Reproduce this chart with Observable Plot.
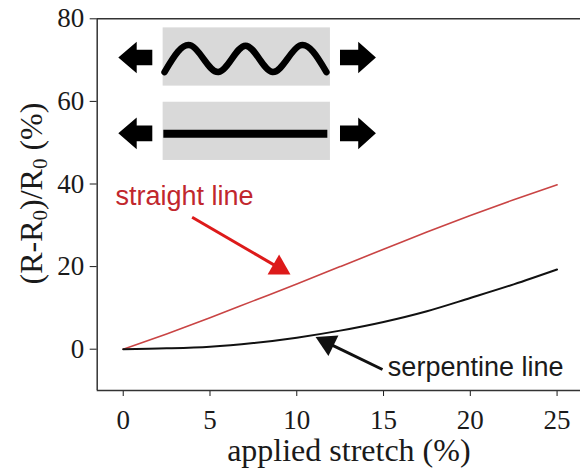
<!DOCTYPE html>
<html><head><meta charset="utf-8">
<script src="https://cdn.jsdelivr.net/npm/d3@7"></script>
<script src="https://cdn.jsdelivr.net/npm/@observablehq/plot@0.6"></script>
<style>body{margin:0;background:#fff}</style>
</head><body><div id="chart"></div>
<script>
// ---- chart data ----
const stretch        = [0, 2.5, 5, 7.5, 10, 12.5, 15, 17.5, 20, 22.5, 25];
const straightLine   = [0, 3.7, 7.6, 11.7, 15.8, 20.0, 24.2, 28.4, 32.4, 36.2, 39.8];
const serpentineLine = [0, 0.2, 0.6, 1.5, 2.8, 4.5, 6.6, 9.2, 12.4, 15.7, 19.3];
const xTicks = [0, 5, 10, 15, 20, 25];
const yTicks = [0, 20, 40, 60, 80];
const xLabel = "applied stretch (%)";
const yLabelParts = [["(R-R", false], ["0", true], [")/R", false], ["0", true], [" (%)", false]];
const seriesNames = ["straight line", "serpentine line"];

// ---- schematic inset & annotations (in data units) ----
const insetBoxX1 = [2.3, 2.3], insetBoxX2 = [11.94, 11.94];
const insetBoxY1 = [63.7, 45.7], insetBoxY2 = [77.8, 59.8];
const waveX = [2.38, 3.93, 5.49, 7.05, 8.6, 10.16, 11.71];
const waveY = [67.1, 73.5, 67.1, 73.5, 67.1, 73.5, 67.1];
const barX = [2.34, 11.79], barY = 52.15;
const blockTipX  = [-0.255, 14.59, -0.255, 14.59];
const blockBaseX = [0.805, 13.57, 0.805, 13.57];
const blockTailX = [1.704, 12.52, 1.704, 12.52];
const blockY     = [70.5, 70.5, 52.15, 52.15];
const headHalf = 3.83, shaftHalf = 1.89;
const pointerStart = [[3.97, 31.96], [14.94, -4.92]];
const pointerHead  = [[8.98, 19.70], [11.77, 1.55]];
const pointerAngle = [120.2, 295.9];
const pointerColor = ["#dd1a1a", "#111111"];
const labelPos = [[-0.45, 36.9], [15.25, -4.29]];
const labelColor = ["#c1272d", "#1a1a1a"];

// ---- tables ----
const lineRows = stretch.flatMap((s, i) => [
  {s, v: straightLine[i], series: seriesNames[0]},
  {s, v: serpentineLine[i], series: seriesNames[1]}
]);
const boxes = insetBoxX1.map((x1, i) => ({x1, x2: insetBoxX2[i], y1: insetBoxY1[i], y2: insetBoxY2[i]}));
const wave = waveX.map((x, i) => ({x, y: waveY[i]}));
const blockRows = blockTipX.flatMap((tip, i) => {
  const c = blockY[i];
  return [
    {id: i, x: tip, y1: c, y2: c},
    {id: i, x: blockBaseX[i], y1: c - headHalf, y2: c + headHalf},
    {id: i, x: blockBaseX[i], y1: c - shaftHalf, y2: c + shaftHalf},
    {id: i, x: blockTailX[i], y1: c - shaftHalf, y2: c + shaftHalf}
  ];
});
const pointers = pointerStart.map((p, i) => ({
  x1: p[0], y1: p[1], x2: pointerHead[i][0], y2: pointerHead[i][1],
  rot: pointerAngle[i], color: pointerColor[i]
}));
const labels = seriesNames.map((t, i) => ({t, x: labelPos[i][0], y: labelPos[i][1], color: labelColor[i]}));

const hasAxisMarks = typeof Plot.axisX === "function";
const axisMarks = hasAxisMarks ? [
  Plot.axisX({ticks: xTicks, tickSize: 6, tickPadding: 13, fontSize: 27, label: null}),
  Plot.axisY({ticks: yTicks, tickSize: 7, tickPadding: 6, fontSize: 27, label: null})
] : [];

const chart = Plot.plot({
  width: 580, height: 468,
  marginLeft: 96.7, marginRight: 0, marginTop: 18.3, marginBottom: 78,
  style: {fontFamily: "'Liberation Serif', serif", fontSize: "27px", color: "#1a1a1a", background: "white"},
  x: {domain: [-1.5, 26.35], ticks: xTicks, tickSize: 6, tickPadding: 13, label: null},
  y: {domain: [-10, 80], ticks: yTicks, tickSize: 7, tickPadding: 6, label: null},
  marks: [
    ...axisMarks,
    Plot.rect(boxes, {x1: "x1", x2: "x2", y1: "y1", y2: "y2", fill: "#d9d9d9"}),
    Plot.line(wave, {x: "x", y: "y", curve: "natural", stroke: "black", strokeWidth: 6.5}),
    Plot.ruleY([barY], {x1: barX[0], x2: barX[1], stroke: "black", strokeWidth: 8}),
    Plot.area(blockRows, {x1: "x", y1: "y1", y2: "y2", z: "id", fill: "black"}),
    Plot.ruleY([-10, 80], {stroke: "#333", strokeWidth: 1.5}),
    Plot.ruleX([-1.5], {stroke: "#333", strokeWidth: 1.5}),
    Plot.line(lineRows.filter(d => d.series === seriesNames[0]), {x: "s", y: "v", curve: "monotone-x", stroke: "#c94444", strokeWidth: 1.6}),
    Plot.line(lineRows.filter(d => d.series === seriesNames[1]), {x: "s", y: "v", curve: "monotone-x", stroke: "#111", strokeWidth: 2}),
    Plot.link(pointers, {x1: "x1", y1: "y1", x2: "x2", y2: "y2", stroke: d => d.color, strokeWidth: 3}),
    Plot.dot(pointers, {x: "x2", y: "y2", symbol: "triangle", r: 8.5, rotate: "rot", fill: d => d.color, stroke: "none"}),
    Plot.text(labels, {x: "x", y: "y", text: "t", fill: d => d.color, textAnchor: "start", lineAnchor: "middle",
      fontFamily: "'Liberation Sans', Arial, sans-serif", fontSize: 27}),
    Plot.text([xLabel], {frameAnchor: "bottom", lineAnchor: "middle", dx: 10, dy: 60.5, fontSize: 32})
  ]
});
document.getElementById("chart").appendChild(chart);

const svg = d3.select(chart);
if (!hasAxisMarks) {
  svg.selectAll('[aria-label^="x-axis"] text, [aria-label^="y-axis"] text').attr("font-size", "27px");
}
const yl = svg.append("text")
  .attr("transform", "translate(42,193.5) rotate(-90)")
  .attr("text-anchor", "middle")
  .attr("font-family", "'Liberation Serif', serif")
  .attr("font-size", 32)
  .attr("fill", "#1a1a1a");
yLabelParts.forEach(([t, sub], i) => {
  yl.append("tspan")
    .attr("dy", sub ? 5 : (i > 0 ? -5 : 0))
    .attr("font-size", sub ? 21 : 32)
    .text(t);
});
</script></body></html>
